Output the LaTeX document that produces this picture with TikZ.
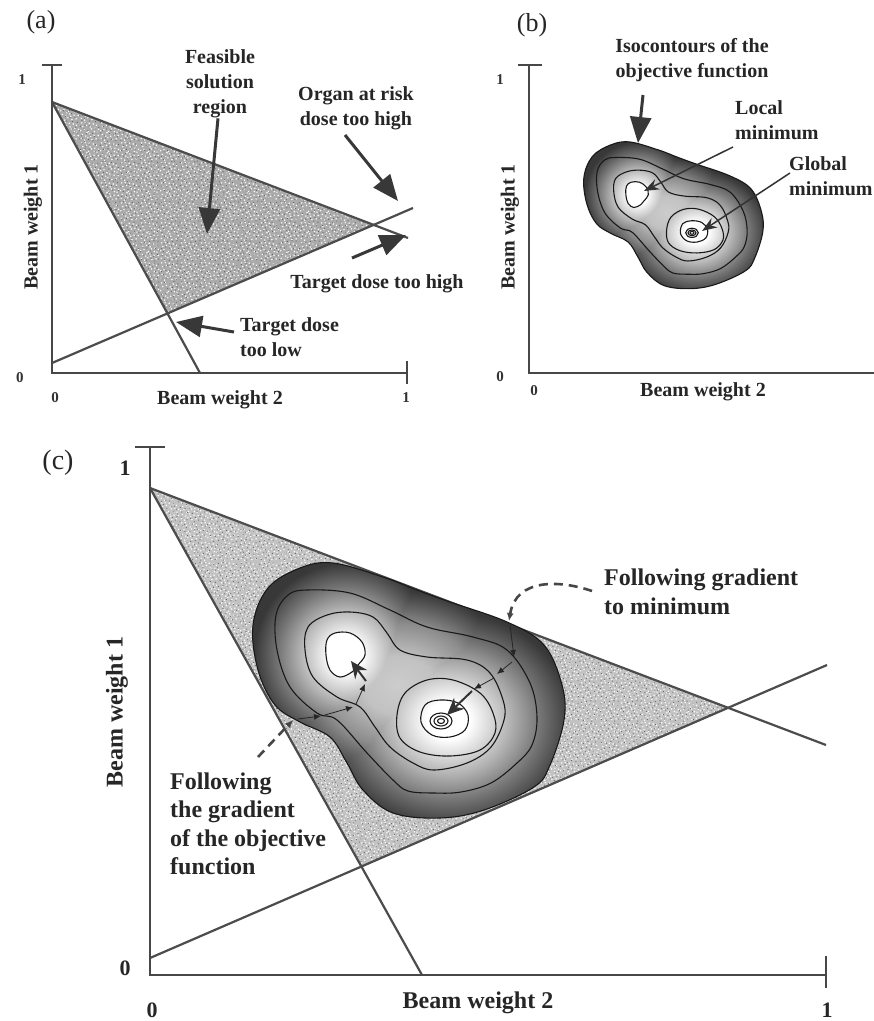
\documentclass[tikz,border=0pt]{standalone}
\usepackage{fontspec}
\setmainfont{Liberation Serif}
\usetikzlibrary{arrows.meta,patterns}
\pgfdeclareradialshading{lobe}{\pgfpoint{0bp}{0bp}}{color(0bp)=(white); color(3.5bp)=(white); color(10bp)=(black!30); color(15bp)=(black!55); color(20bp)=(black!78); color(50bp)=(black!78)}
\pgfdeclareradialshading{waist}{\pgfpoint{0bp}{0bp}}{color(0bp)=(black!20); color(6bp)=(black!24); color(13bp)=(black!45); color(20bp)=(black!78); color(50bp)=(black!78)}
\newcommand\dta[2]{\pgfpathcircle{\pgfqpoint{#1pt}{#2pt}}{0.85pt}}
\newcommand\dtb[2]{\pgfpathcircle{\pgfqpoint{#1pt}{#2pt}}{0.6pt}}
\pgfdeclarepatternformonly{speckA}{\pgfqpoint{0pt}{0pt}}{\pgfqpoint{20pt}{20pt}}{\pgfqpoint{20pt}{20pt}}{%
  \dta{1.3}{2.7}\dta{4.8}{0.9}\dta{8.2}{3.4}\dta{12.5}{1.6}\dta{16.9}{2.2}\dta{19.1}{5.8}\dta{2.4}{6.9}\dta{6.1}{5.2}\dta{10.3}{7.4}\dta{14.7}{6.1}\dta{17.8}{9.3}\dta{0.7}{10.8}\dta{4.2}{11.9}\dta{8.9}{10.1}\dta{12.1}{12.6}\dta{15.6}{13.4}\dta{19.4}{12.2}\dta{2.9}{15.1}\dta{6.8}{16.3}\dta{10.6}{14.7}\dta{13.9}{17.8}\dta{17.2}{16.4}\dta{1.8}{18.9}\dta{5.5}{19.2}\dta{9.7}{18.6}\dta{11.2}{4.9}\dta{7.3}{8.6}\dta{15.1}{9.9}
  \pgfusepath{fill}}
\pgfdeclarepatternformonly{speckB}{\pgfqpoint{0pt}{0pt}}{\pgfqpoint{23pt}{23pt}}{\pgfqpoint{23pt}{23pt}}{%
  \dtb{21.5}{3.1}\dtb{17.5}{1.0}\dtb{13.6}{3.9}\dtb{8.6}{1.8}\dtb{3.6}{2.5}\dtb{1.0}{6.7}\dtb{20.2}{7.9}\dtb{16.0}{6.0}\dtb{11.2}{8.5}\dtb{6.1}{7.0}\dtb{2.5}{10.7}\dtb{22.2}{12.4}\dtb{18.2}{13.7}\dtb{12.8}{11.6}\dtb{9.1}{14.5}\dtb{5.1}{15.4}\dtb{0.7}{14.0}\dtb{19.7}{17.4}\dtb{15.2}{18.7}\dtb{10.8}{16.9}\dtb{7.0}{20.5}\dtb{3.2}{18.9}\dtb{21.0}{21.7}\dtb{16.7}{22.1}\dtb{11.8}{21.4}\dtb{14.1}{9.2}
  \pgfusepath{fill}}
\newcommand\blobOuter{plot[smooth cycle, tension=0.6] coordinates {(-155,-65) (-140,-102) (-108,-122) (-75,-127) (-25,-113) (9,-100) (42,-88) (99,-68) (136,-45) (154,-5) (156,30) (142,75) (126,97) (76,120) (32,128) (-15,123) (-45,100) (-61,73) (-78,47) (-108,32) (-133,15) (-150,-20)}}
\newcommand\blobCone{plot[smooth cycle, tension=0.6] coordinates {(-131,-40) (-132,-75) (-120,-95) (-101,-100) (-58,-97) (-18,-80) (19,-63) (65,-53) (99,-40) (122,-7) (129,27) (124,55) (109,73) (83,93) (53,102) (26,103) (0,101) (-15,90) (-41,63) (-71,30) (-91,23) (-118,-3)}}
\newcommand\blobCtwo{plot[smooth cycle, tension=0.6] coordinates {(-103,-40) (-100,-63) (-81,-75) (-58,-78) (-35,-73) (-21,-57) (-8,-40) (19,-33) (59,-30) (82,-17) (95,10) (96,30) (83,57) (59,73) (26,80) (5,73) (-18,57) (-33,37) (-48,17) (-71,7) (-95,-13)}}
\newcommand\loopL{plot[smooth cycle, tension=0.6] coordinates {(-81,-50) (-73,-57) (-58,-57) (-46,-48) (-43,-35) (-50,-25) (-56,-18) (-68,-13) (-78,-20) (-82,-35)}}
\newcommand\loopR{plot[smooth cycle, tension=0.6] coordinates {(19,-10) (45,-10) (72,3) (85,23) (87,43) (72,60) (42,66) (12,62) (-8,48) (-11,25) (-3,3)}}
\newcommand\ringR{plot[smooth cycle, tension=0.6] coordinates {(17,15) (32,10) (50,13) (60,25) (57,40) (42,47) (24,45) (13,32)}}
\newcommand\drawblob{%
  \fill[black!78] \blobOuter;
  \begin{scope}
    \clip \blobOuter;
    \begin{scope}[blend mode=lighten]
      \shade[shading=waist] (-10,-5) ellipse [x radius=150, y radius=118];
      \shade[shading=lobe] (40,30) ellipse [x radius=155, y radius=135];
      \shade[shading=lobe] (-62,-35) ellipse [x radius=115, y radius=115];
    \end{scope}
  \end{scope}
  \draw[cline] \blobOuter;
  \draw[cline] \blobCone;
  \draw[cline] \blobCtwo;
  \fill[white] \loopL;
  \draw[cline] \loopL;
  \draw[cline] \loopR;
  \draw[cline] \ringR;
  \draw[cline] (33,31) ellipse [x radius=11, y radius=8];
  \draw[cline] (33,31) ellipse [x radius=7, y radius=5];
  \draw[cline] (33,31) ellipse [x radius=3.5, y radius=2.5];
}
\tikzset{
  ax/.style={draw=black!72, line width=2pt},
  bnd/.style={draw=black!70, line width=2.2pt},
  cline/.style={draw=black!90, line width=1.1pt},
  lbl/.style={font=\fontsize{20}{25}\selectfont\bfseries, text=black!85, align=center, inner sep=0pt},
  lblc/.style={font=\fontsize{24}{28.5}\selectfont\bfseries, text=black!85, align=left, inner sep=0pt},
  tickA/.style={font=\fontsize{15}{18}\selectfont\bfseries, text=black!80, inner sep=0pt},
  tickC/.style={font=\fontsize{22}{26}\selectfont\bfseries, text=black!85, inner sep=0pt},
  panel/.style={font=\fontsize{26}{30}\selectfont, text=black!85, inner sep=0pt},
  bigarrow/.style={draw=black!78, line width=3pt, -{Triangle[length=26pt,width=21pt]}},
  thinarrow/.style={draw=black!80, line width=1.5pt, -{Stealth[length=15pt,width=11pt]}},
  smallhead/.style={draw=black!85, line width=0.8pt, -{Latex[length=7pt,width=6pt]}},
  bighead/.style={draw=black!80, line width=2pt, -{Stealth[length=17pt,width=15pt]}},
  dsh/.style={draw=black!72, line width=2.6pt, dash pattern=on 9pt off 6pt},
  speckfill/.style={fill=#1, postaction={pattern=speckA, pattern color=white}, postaction={pattern=speckB, pattern color=black!62}},
}
\begin{document}
\begin{tikzpicture}[x=1pt,y=-1pt]
\useasboundingbox (0,0) rectangle (874,1021);
\fill[white] (0,0) rectangle (874,1021);

% ================= panel (a)
\coordinate (aO) at (52,373);
\coordinate (aYt) at (52,65);
\coordinate (aXr) at (407,373);
\coordinate (aP) at (52,102);
\coordinate (aS) at (200,373);
\coordinate (aU) at (408,238);
\coordinate (aL0) at (52,363);
\coordinate (aL1) at (413,208);
\coordinate (aQ) at (intersection of aP--aS and aL0--aL1);
\coordinate (aR) at (intersection of aP--aU and aL0--aL1);
\path[speckfill=black!33] (aP) -- (aQ) -- (aR) -- cycle;
\draw[bnd] (aP) -- (aS);
\draw[bnd] (aP) -- (aU);
\draw[bnd] (aL0) -- (aL1);
\draw[ax] (aYt) -- (aO) -- (aXr);
\draw[ax] (42,65) -- (62,65);
\draw[ax] (407,361) -- (407,384);

\node[panel] (pa) at (41,22) {(a)};
\node[tickA] (a1) at (22,80) {1};
\node[tickA] (a0y) at (20,378) {0};
\node[tickA] (a0x) at (55,398) {0};
\node[tickA] (a1x) at (406,398) {1};
\node[lbl] (axx) at (220,400) {Beam weight 2};
\node[lbl, rotate=90] (axy) at (33,227) {Beam weight 1};
\node[lbl] (feas) at (220,84) {Feasible\\solution\\region};
\node[lbl] (oar) at (356,108) {Organ at risk\\dose too high};
\node[lbl] (tdh) at (377,284) {Target dose too high};
\node[lbl, align=left, anchor=west] (tdl) at (240,337) {Target dose\\too low};

\coordinate (feasTip) at (207,234);
\coordinate (oarS) at (345,135);
\coordinate (oarTip) at (398,201);
\coordinate (tdhS) at (352,258);
\coordinate (tdhTip) at (406,235);
\coordinate (tdlTip) at (176,322);
\draw[bigarrow] ([xshift=-2pt]feas.south) -- (feasTip);
\draw[bigarrow] (oarS) -- (oarTip);
\draw[bigarrow] (tdhS) -- (tdhTip);
\draw[bigarrow] ([xshift=-6pt,yshift=5pt]tdl.west) -- (tdlTip);

% ================= panel (b)
\coordinate (bO) at (529,373);
\coordinate (bYt) at (529,65);
\coordinate (bXr) at (880,373);
\draw[ax] (bYt) -- (bO) -- (bXr);
\draw[ax] (518,65) -- (542,65);
\begin{scope}[shift={(673,215)}, scale=0.575]
  \drawblob
\end{scope}
\node[panel] (pb) at (532,25) {(b)};
\node[tickA] (b1) at (500,80) {1};
\node[tickA] (b0y) at (500,377) {0};
\node[tickA] (b0x) at (534,391) {0};
\node[lbl] (bxx) at (703,392) {Beam weight 2};
\node[lbl, rotate=90] (bxy) at (510,227) {Beam weight 1};
\node[lbl] (iso) at (692,60) {Isocontours of the\\objective function};
\node[lbl, align=left, anchor=west] (locm) at (735,120) {Local\\minimum};
\node[lbl, align=left, anchor=west] (glom) at (789,176) {Global\\minimum};
\coordinate (isoS) at (643,95);
\coordinate (isoTip) at (638,143);
\coordinate (locS) at (733,147);
\coordinate (locTip) at (644,191);
\coordinate (gloS) at (790,173);
\coordinate (gloTip) at (702,231);
\draw[bigarrow] (isoS) -- (isoTip);
\draw[thinarrow] (locS) -- (locTip);
\draw[thinarrow] (gloS) -- (gloTip);

% ================= panel (c)
\coordinate (cO) at (150,975);
\coordinate (cYt) at (150,447);
\coordinate (cXr) at (826,975);
\coordinate (cP) at (150,488);
\coordinate (cS) at (422,975);
\coordinate (cU) at (826,745);
\coordinate (cL0) at (150,958);
\coordinate (cL1) at (827,665);
\coordinate (cQ) at (intersection of cP--cS and cL0--cL1);
\coordinate (cR) at (intersection of cP--cU and cL0--cL1);
\path[speckfill=black!24] (cP) -- (cQ) -- (cR) -- cycle;
\draw[bnd] (cP) -- (cS);
\draw[bnd] (cP) -- (cU);
\draw[bnd] (cL0) -- (cL1);
\draw[ax] (cYt) -- (cO) -- (cXr);
\draw[ax] (135,447) -- (165,447);
\draw[ax] (826,956) -- (826,988);
\begin{scope}[shift={(408,690)}]
  \drawblob
\end{scope}

\node[panel, font=\fontsize{28}{32}\selectfont] (pc) at (58,463) {(c)};
\node[tickC] (c1) at (125,468) {1};
\node[tickC] (c0y) at (125,968) {0};
\node[tickC] (c0x) at (152,1010) {0};
\node[tickC] (c1x) at (827,1010) {1};
\node[lblc] (cxx) at (478,1003) {Beam weight 2};
\node[lblc, rotate=90] (cxy) at (117,712) {Beam weight 1};
\node[lblc, anchor=west] (fgm) at (604,592) {Following gradient\\to minimum};
\node[lblc, anchor=west] (fgo) at (170,824) {Following\\the gradient\\of the objective\\function};

% right gradient path
\coordinate (gTop) at (509,621);
\draw[dsh, -{Latex[length=8pt,width=7pt]}] ([xshift=-12pt,yshift=1pt]fgm.west) .. controls (560,580) and (516,578) .. (gTop);
\draw[smallhead] (510,625) -- (514,657);
\draw[smallhead] (512,662) -- (497,674);
\draw[smallhead] (494,678) -- (474,689);
\draw[bighead] (472,691) -- (447,715);
% left gradient path
\coordinate (lS) at (258,757);
\coordinate (lE) at (293,720);
\draw[dsh, -{Latex[length=8pt,width=7pt]}] (lS) -- (lE);
\draw[smallhead] (298,719) -- (321,716);
\draw[smallhead] (325,715) -- (353,707);
\draw[smallhead] (356,704) -- (365,684);
\draw[bighead] (366,681) -- (351,661);
\end{tikzpicture}
\end{document}
